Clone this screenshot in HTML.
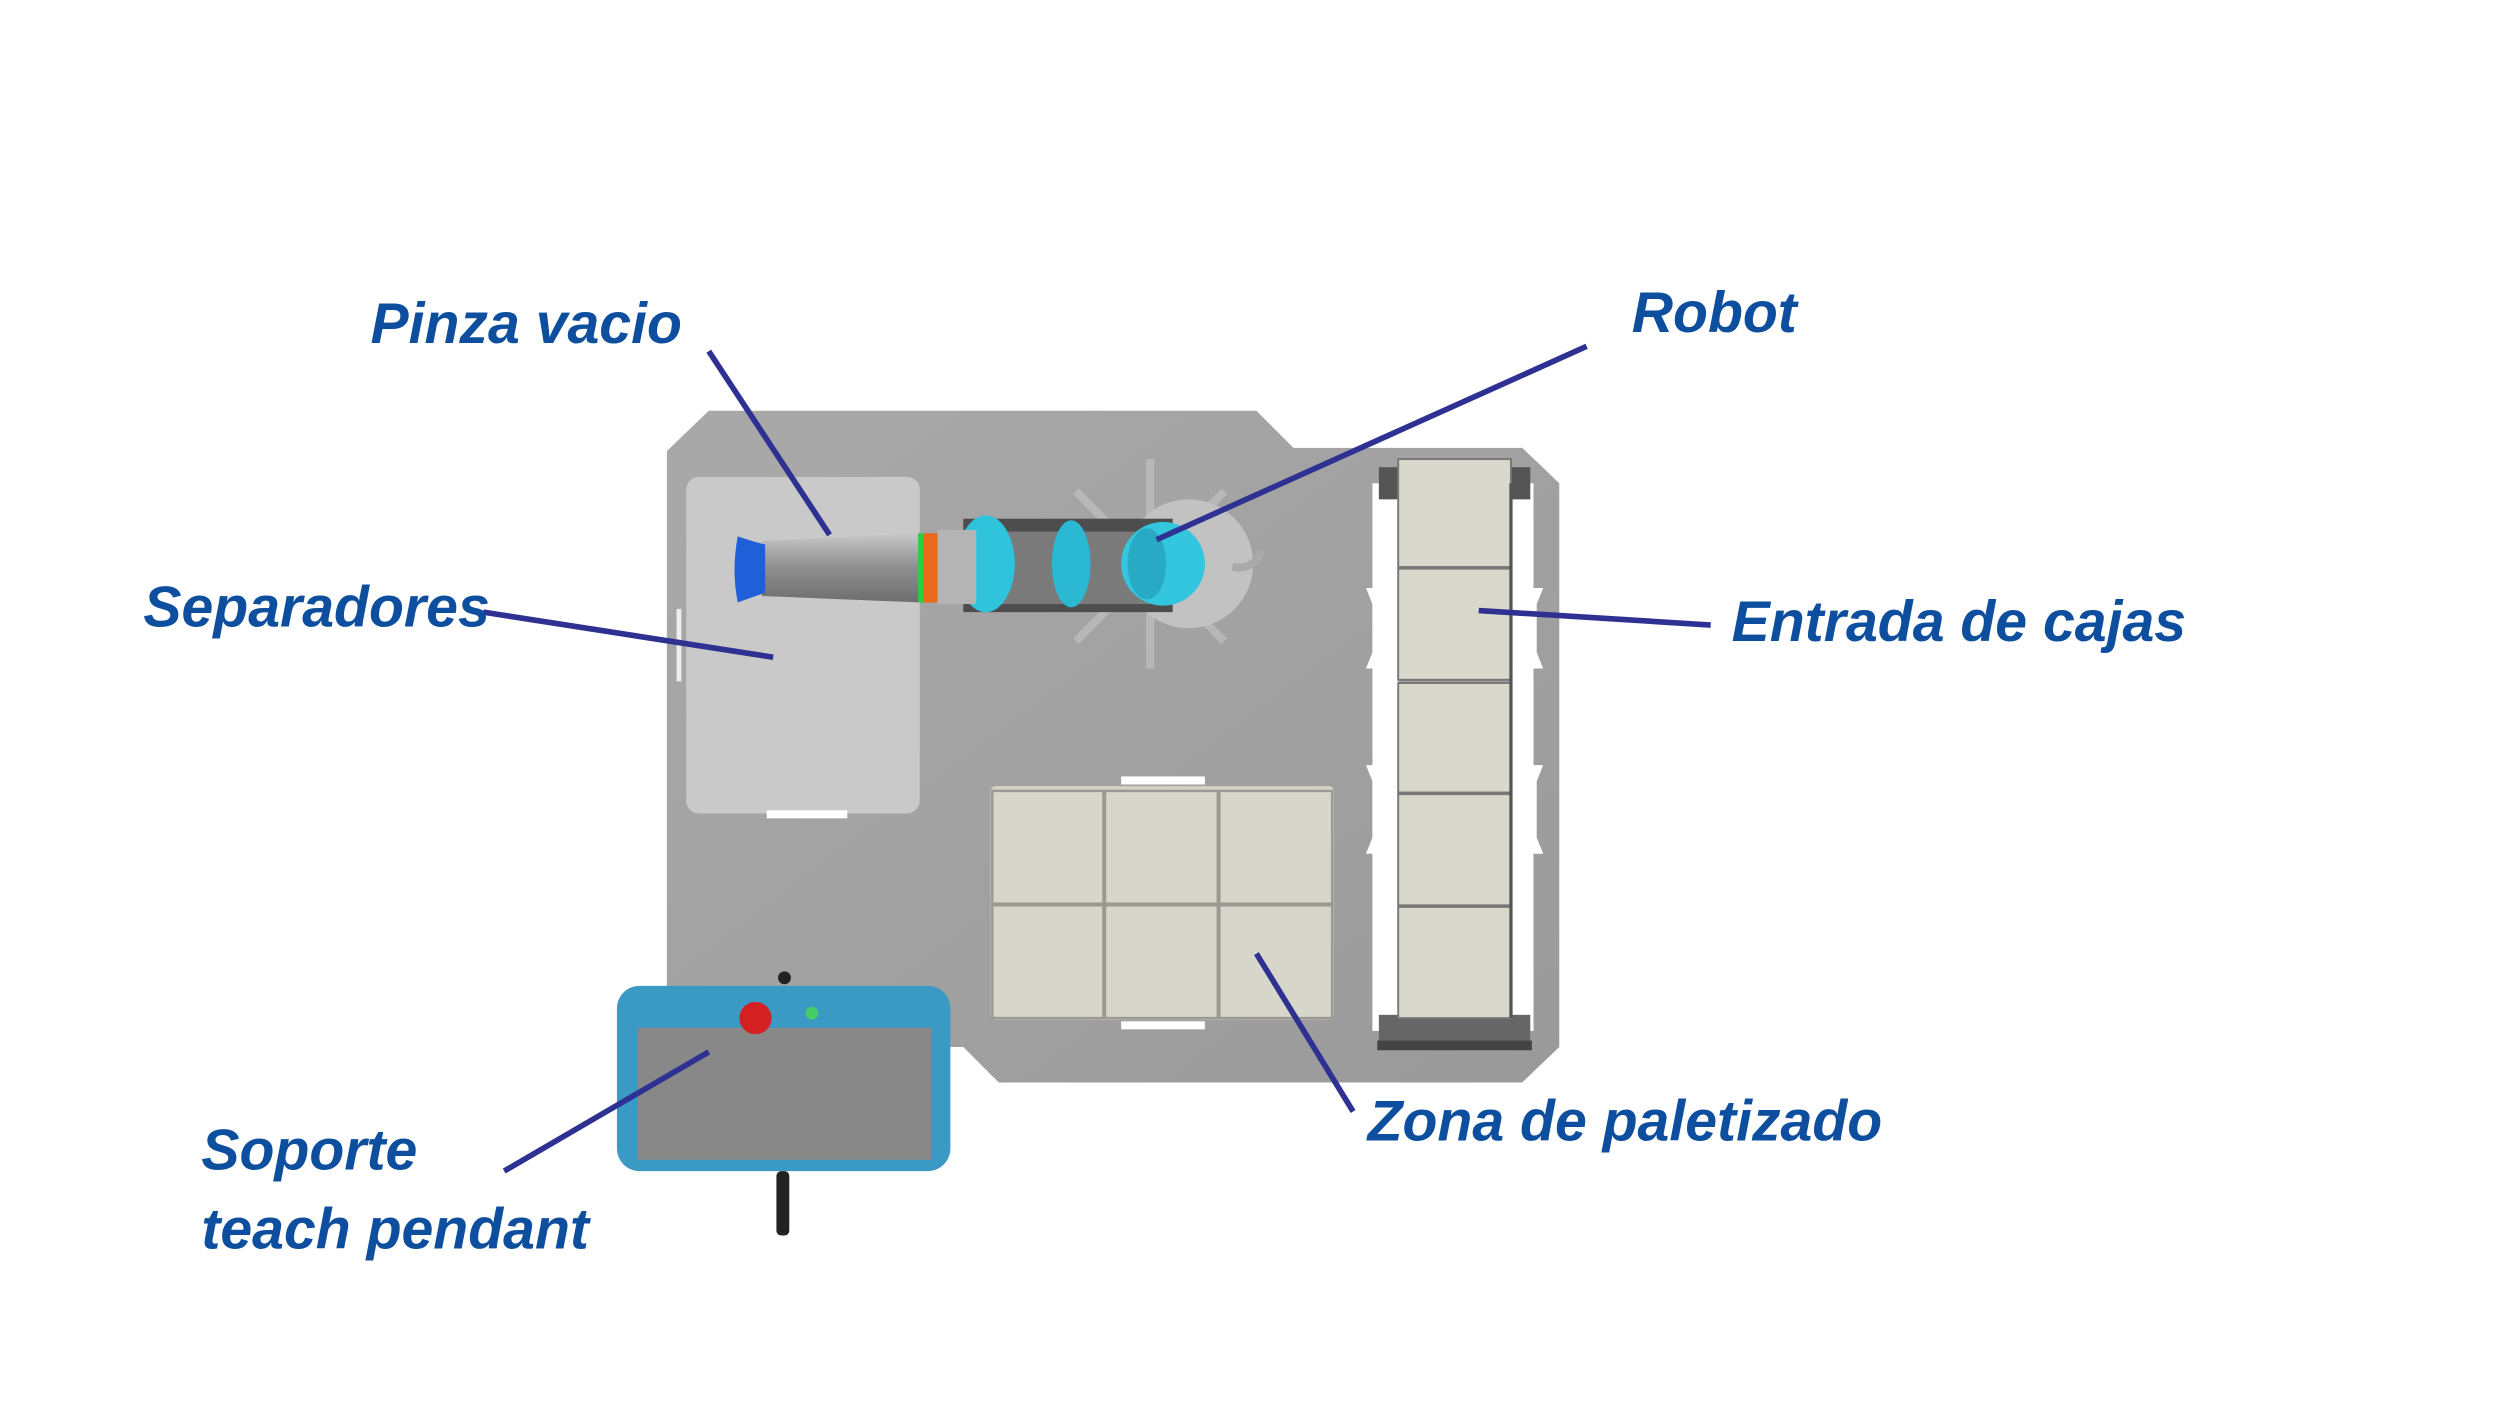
<!DOCTYPE html>
<html><head><meta charset="utf-8"><style>
html,body{margin:0;padding:0;background:#fff;}
svg{display:block;}
text{font-family:"Liberation Sans",Arial,sans-serif;font-weight:bold;font-style:italic;fill:#0d4f9e;font-size:35.5px;}
</style></head><body>
<svg width="2500" height="1424" viewBox="0 0 1552 884" xmlns="http://www.w3.org/2000/svg">
<defs>
<linearGradient id="pl" x1="0" y1="0" x2="1" y2="1">
<stop offset="0" stop-color="#a9a9a9"/><stop offset="1" stop-color="#9a9a9a"/></linearGradient>
<linearGradient id="tube" x1="0" y1="0" x2="0" y2="1">
<stop offset="0" stop-color="#c8c8c8"/><stop offset="0.5" stop-color="#8e8e8e"/><stop offset="1" stop-color="#6e6e6e"/></linearGradient>
</defs>
<rect width="1552" height="884" fill="#fff"/>
<polygon points="414,280 440,255 780,255 803,278 945,278 968,300 968,650 945,672 620,672 598,650 414,650" fill="url(#pl)"/>
<rect x="852" y="300" width="16" height="340" fill="#fff"/>
<rect x="939" y="300" width="13" height="340" fill="#fff"/>
<polygon points="848,365 868,365 868,415 848,415 852,405 852,375" fill="#fff"/>
<polygon points="848,475 868,475 868,530 848,530 852,520 852,485" fill="#fff"/>
<polygon points="938,365 958,365 954,375 954,405 958,415 938,415" fill="#fff"/>
<polygon points="938,475 958,475 954,485 954,520 958,530 938,530" fill="#fff"/>
<rect x="856" y="290" width="12" height="20" fill="#555"/>
<rect x="938" y="290" width="12" height="20" fill="#555"/>
<rect x="856" y="630" width="94" height="20" fill="#666"/>
<rect x="855" y="646" width="96" height="6" fill="#444"/>
<g fill="#d8d8cc" stroke="#777" stroke-width="1.2">
<rect x="868" y="285" width="70" height="67"/>
<rect x="868" y="353" width="70" height="69"/>
<rect x="868" y="424" width="70" height="68"/>
<rect x="868" y="493" width="70" height="69"/>
<rect x="868" y="563" width="70" height="69"/>
</g>
<line x1="938" y1="300" x2="938" y2="632" stroke="#555" stroke-width="2"/>
<rect x="426" y="296" width="145" height="209" rx="8" fill="#c9c9c9"/>
<rect x="476" y="503" width="50" height="5" fill="#fff"/>
<rect x="420" y="378" width="3" height="45" fill="#eee"/>
<rect x="615" y="488" width="213" height="145" rx="3" fill="#d2d2c6"/>
<g fill="#d6d6ca" stroke="#9a9a92" stroke-width="1.5">
<rect x="616" y="491" width="69" height="70"/><rect x="686" y="491" width="70" height="70"/><rect x="757" y="491" width="70" height="70"/>
<rect x="616" y="562" width="69" height="70"/><rect x="686" y="562" width="70" height="70"/><rect x="757" y="562" width="70" height="70"/>
</g>
<rect x="696" y="482" width="52" height="5" fill="#fff"/>
<rect x="696" y="634" width="52" height="5" fill="#fff"/>
<g stroke="#bdbdbd" stroke-width="5" opacity="0.8">
<line x1="714" y1="285" x2="714" y2="415"/><line x1="668" y1="305" x2="760" y2="398"/><line x1="668" y1="398" x2="760" y2="305"/>
</g>
<circle cx="738" cy="350" r="40" fill="#c2c2c2"/>
<path d="M765,352 q14,2 18,-10" stroke="#aaa" stroke-width="5" fill="none"/>
<rect x="598" y="322" width="130" height="58" fill="#4d4d4d"/>
<rect x="608" y="330" width="110" height="45" fill="#7a7a7a"/>
<ellipse cx="612" cy="350" rx="18" ry="30" fill="#2fc3dc"/>
<ellipse cx="665" cy="350" rx="12" ry="27" fill="#2ab8d2"/>
<circle cx="722" cy="350" r="26" fill="#33c6de"/>
<ellipse cx="712" cy="350" rx="12" ry="22" fill="#29aac4"/>
<polygon points="473,336 572,331 572,374 473,370" fill="url(#tube)"/>
<rect x="570" y="331" width="3" height="43" fill="#2ecc3e"/>
<rect x="573" y="331" width="9" height="43" fill="#e86a1e"/>
<rect x="582" y="329" width="24" height="46" fill="#b4b4b4"/>
<path d="M458,333 q12,4 17,5 v30 q-6,2 -17,6 q-4,-20 0,-41z" fill="#1f5fd8"/>
<rect x="383" y="612" width="207" height="115" rx="14" fill="#3a9ac4"/>
<rect x="396" y="638" width="182" height="82" fill="#888"/>
<circle cx="469" cy="632" r="10" fill="#d42020"/>
<circle cx="504" cy="629" r="4" fill="#4c6"/>
<circle cx="487" cy="607" r="4" fill="#222"/>
<rect x="482" y="727" width="8" height="40" rx="3" fill="#222"/>
<g stroke="#2e3192" stroke-width="3.5" fill="none">
<line x1="440" y1="218" x2="515" y2="332"/>
<line x1="985" y1="215" x2="718" y2="335"/>
<line x1="300" y1="380" x2="480" y2="408"/>
<line x1="1062" y1="388" x2="918" y2="379"/>
<line x1="840" y1="690" x2="780" y2="592"/>
<line x1="313" y1="727" x2="440" y2="653"/>
</g>
<text x="230" y="213">Pinza vacio</text>
<text x="1013" y="206">Robot</text>
<text x="89" y="389">Separadores</text>
<text x="1075" y="398">Entrada de cajas</text>
<text x="849" y="708">Zona de paletizado</text>
<text x="125" y="726">Soporte</text>
<text x="125" y="775">teach pendant</text>
</svg>
</body></html>
